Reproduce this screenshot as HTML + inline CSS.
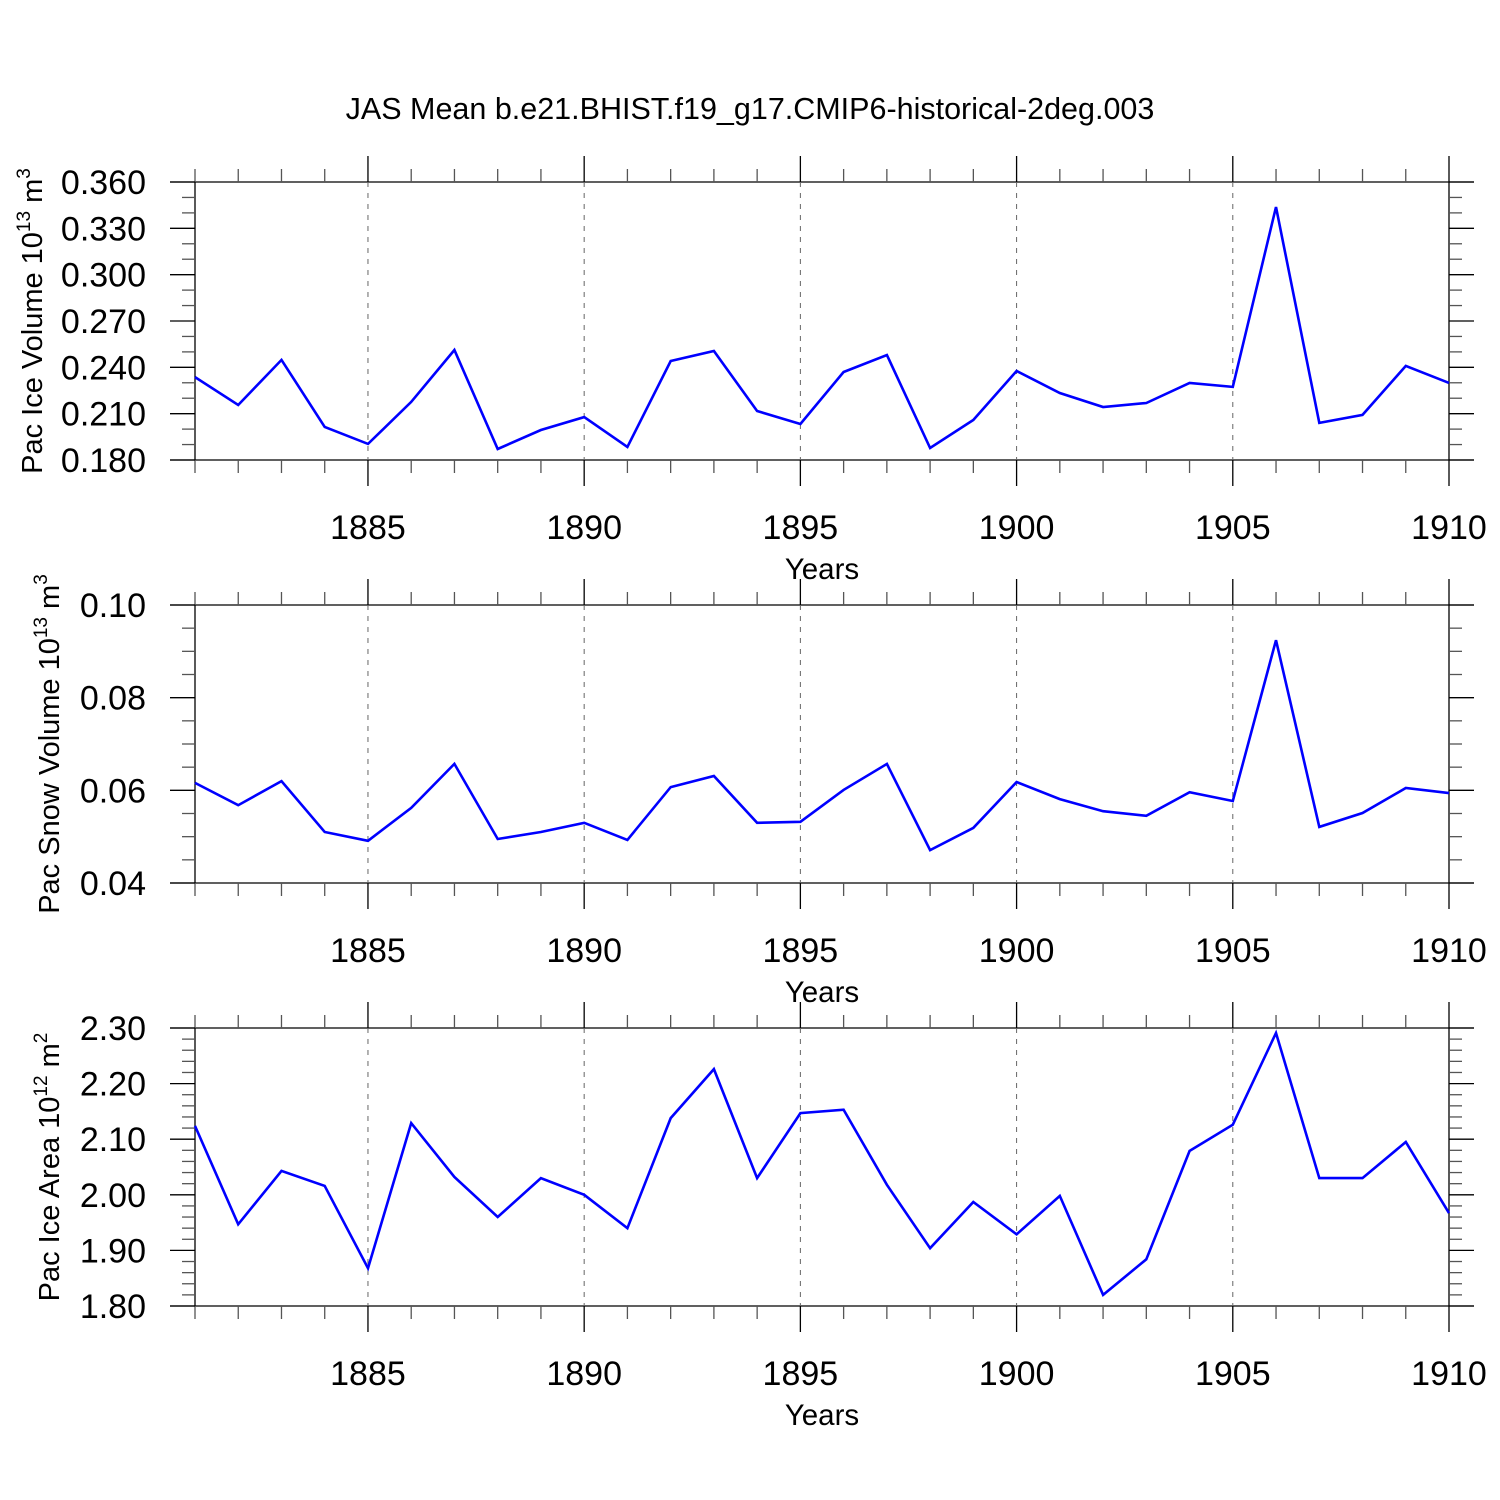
<!DOCTYPE html>
<html><head><meta charset="utf-8"><style>
html,body{margin:0;padding:0;background:#fff;}
svg{display:block;font-family:"Liberation Sans",Arial,sans-serif;}
</style></head><body>
<svg id="chart" width="1500" height="1500" viewBox="0 0 1500 1500" xmlns="http://www.w3.org/2000/svg">
<text x="750" y="119" text-anchor="middle" font-size="30.5">JAS Mean b.e21.BHIST.f19_g17.CMIP6-historical-2deg.003</text>
</svg>
<script>
const years = [1881,1882,1883,1884,1885,1886,1887,1888,1889,1890,1891,1892,1893,1894,1895,1896,1897,1898,1899,1900,1901,1902,1903,1904,1905,1906,1907,1908,1909,1910];
const iceVolume = [0.2337,0.2156,0.2448,0.2014,0.1904,0.2176,0.2512,0.1871,0.1994,0.2078,0.1884,0.2441,0.2506,0.2117,0.2033,0.2370,0.2480,0.1878,0.2059,0.2376,0.2234,0.2143,0.2169,0.2299,0.2273,0.3438,0.2040,0.2092,0.2409,0.2299];
const snowVolume = [0.0616,0.0568,0.0620,0.0510,0.0491,0.0562,0.0657,0.0495,0.0510,0.0530,0.0493,0.0607,0.0631,0.0530,0.0532,0.0601,0.0657,0.0471,0.0519,0.0618,0.0581,0.0555,0.0545,0.0596,0.0577,0.0924,0.0521,0.0551,0.0605,0.0594];
const iceArea = [2.124,1.947,2.043,2.016,1.868,2.129,2.032,1.960,2.030,2.000,1.940,2.138,2.226,2.030,2.147,2.153,2.018,1.904,1.987,1.929,1.998,1.820,1.884,2.079,2.126,2.291,2.030,2.030,2.095,1.967];
const xTickLabels = [1885,1890,1895,1900,1905,1910];
const iceVolumeTicks = [0.18,0.21,0.24,0.27,0.30,0.33,0.36];
const snowVolumeTicks = [0.04,0.06,0.08,0.10];
const iceAreaTicks = [1.80,1.90,2.00,2.10,2.20,2.30];

const svg = document.getElementById('chart');
const NS = 'http://www.w3.org/2000/svg';
function mk(tag, attrs, parent){
  const e = document.createElementNS(NS, tag);
  for (const k in attrs) e.setAttribute(k, attrs[k]);
  (parent||svg).appendChild(e);
  return e;
}
const X0 = 195, X1 = 1449;
function xScale(yr){ return X0 + (yr - 1881) / (1910 - 1881) * (X1 - X0); }

function panel(cfg){
  const g = mk('g', {});
  
  
  const top = cfg.top, bot = cfg.top + 278;
  const yScale = v => bot - (v - cfg.min) / (cfg.max - cfg.min) * (bot - top);
  const line = (x1,y1,x2,y2,st) => mk('line', Object.assign({x1,y1,x2,y2,stroke:'#000','stroke-width':1.3}, st||{}), g);
  line(170, top, 1474, top);
  line(170, bot, 1474, bot);
  line(X0, top, X0, bot);
  line(X1, top, X1, bot);
  for (let yr = 1881; yr <= 1910; yr++) {
    const x = xScale(yr);
    const major = (yr % 5 === 0);
    const L = major ? 26 : 13;
    line(x, top - L, x, top, {stroke: major ? '#000' : '#555'});
    line(x, bot, x, bot + L, {stroke: major ? '#000' : '#555'});
    if (major && yr < 1910) {
      line(x, top, x, bot, {stroke:'#666','stroke-width':1,'stroke-dasharray':'5,6'});
    }
  }
  xTickLabels.forEach(yr => {
    const t = mk('text', {x: xScale(yr), y: bot + 79, 'text-anchor':'middle', 'font-size':34}, g);
    
    
    t.textContent = yr;
  });
  const xt = mk('text', {x: 822, y: bot + 119, 'text-anchor':'middle', 'font-size':29.5}, g);
  
  
  xt.textContent = 'Years';
  const step = cfg.ticks[1] - cfg.ticks[0];
  const mstep = step / (cfg.minor + 1);
  for (let i = 0; i < cfg.ticks.length - 1; i++) {
    for (let j = 1; j <= cfg.minor; j++) {
      const y = yScale(cfg.ticks[i] + j * mstep);
      line(X0 - 13, y, X0, y, {stroke:'#555'});
      line(X1, y, X1 + 13, y, {stroke:'#555'});
    }
  }
  cfg.ticks.forEach(v => {
    const y = yScale(v);
    line(170, y, X0, y);
    line(X1, y, 1474, y);
    const t = mk('text', {x: 146, y: y + 12, 'text-anchor':'end', 'font-size':34}, g);
    
    
    t.textContent = v.toFixed(cfg.dec);
  });
  const yt = mk('text', {x: 0, y: 0, 'text-anchor':'middle', 'font-size':29, transform:`translate(${cfg.tx},${(top+bot)/2}) rotate(-90)`}, g);
  
  
  yt.innerHTML = cfg.label + ' 10<tspan dy="-12" font-size="19">' + cfg.exp + '</tspan><tspan dy="12"> m</tspan><tspan dy="-12" font-size="19">' + cfg.unitExp + '</tspan>';
  const pts = years.map((yr, i) => xScale(yr).toFixed(1) + ',' + yScale(cfg.data[i]).toFixed(1)).join(' ');
  const pl = mk('polyline', {points: pts, fill:'none', stroke:'#0000ff', 'stroke-width':2.6, 'stroke-linejoin':'miter'}, g);
  
  
}

panel({name:'ice-volume-panel', top:182, min:0.18, max:0.36, ticks:iceVolumeTicks, minor:2, dec:3, data:iceVolume, label:'Pac Ice Volume', exp:'13', unitExp:'3', tx:42});
panel({name:'snow-volume-panel', top:605, min:0.04, max:0.10, ticks:snowVolumeTicks, minor:3, dec:2, data:snowVolume, label:'Pac Snow Volume', exp:'13', unitExp:'3', tx:59});
panel({name:'ice-area-panel', top:1028, min:1.80, max:2.30, ticks:iceAreaTicks, minor:4, dec:2, data:iceArea, label:'Pac Ice Area', exp:'12', unitExp:'2', tx:59});
</script>
</body></html>
